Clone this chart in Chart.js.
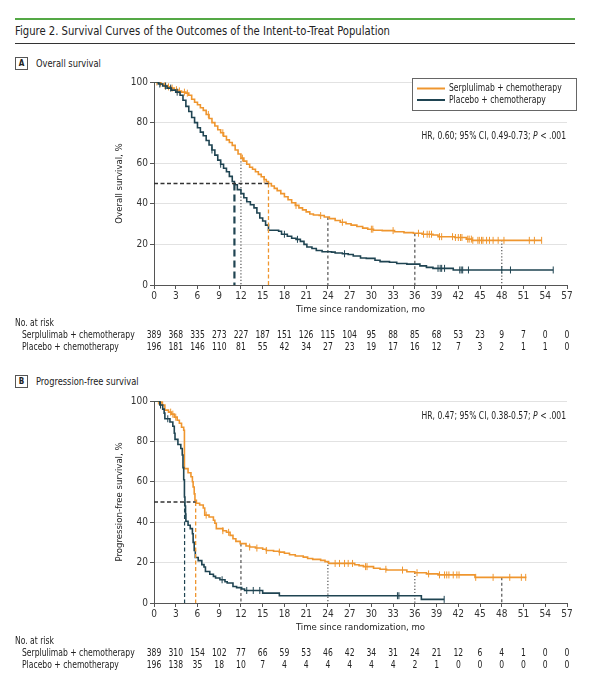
<!DOCTYPE html>
<html><head><meta charset="utf-8">
<script src="https://cdn.jsdelivr.net/npm/chart.js@4.4.1/dist/chart.umd.min.js"></script>
<style>
html,body{margin:0;padding:0;background:#fff;}
body{width:590px;height:680px;position:relative;overflow:hidden;font-family:"DejaVu Sans Condensed","Liberation Sans Narrow",sans-serif;color:#222;}
.rule-g{position:absolute;left:15px;top:18px;width:560px;height:2px;background:#54a845;}
.rule-k{position:absolute;left:15px;top:43px;width:560px;height:1px;background:#333;}
.title{position:absolute;left:15px;top:23px;font-size:13px;line-height:15px;white-space:nowrap;transform:scaleX(0.86);transform-origin:0 0;}
.panel{position:absolute;left:15px;font-size:10.5px;line-height:13px;white-space:nowrap;}
.panel .box{display:inline-block;width:11px;height:11px;border:1px solid #555;font-size:8px;line-height:11px;text-align:center;font-weight:bold;margin-right:8px;vertical-align:top;}
.panel .txt{display:inline-block;transform:scaleX(0.88);transform-origin:0 0;vertical-align:top;}
canvas{position:absolute;left:0;}
</style></head>
<body>
<div class="rule-g"></div>
<div class="title">Figure 2. Survival Curves of the Outcomes of the Intent-to-Treat Population</div>
<div class="rule-k"></div>
<div class="panel" style="top:57px"><span class="box">A</span><span class="txt">Overall survival</span></div>
<canvas id="cA" width="590" height="290" style="top:72px;width:590px;height:290px"></canvas>
<div class="panel" style="top:375px"><span class="box">B</span><span class="txt">Progression-free survival</span></div>
<canvas id="cB" width="590" height="290" style="top:390px;width:590px;height:290px"></canvas>
<script>
const FONT = '"DejaVu Sans Condensed","Liberation Sans Narrow",sans-serif';
const ORANGE = '#EF962F';
const NAVY = '#1F4452';
const SX = 0.85; // horizontal squeeze for the condensed look

const seriesLabels = ['Serplulimab + chemotherapy', 'Placebo + chemotherapy'];
const riskTimes = [0,3,6,9,12,15,18,21,24,27,30,33,36,39,42,45,48,51,54,57];

// Panel A: overall survival (time in months, % surviving)
const osSerp = [[0,100],[0.5,99.5],[1.0,99],[1.4,98.2],[1.9,97.6],[2.3,97],[2.8,96.2],[3.3,95.6],[3.8,95],[4.4,94.5],[4.8,93.5],[5.2,91.5],[5.6,90],[6.0,88.8],[6.4,87.3],[6.8,86],[7.2,84],[7.6,82],[8.0,80],[8.4,78.3],[8.8,76.5],[9.2,75],[9.6,73.3],[10.0,71.5],[10.4,70.2],[10.8,68.8],[11.2,66.5],[11.6,64.5],[12.0,62.5],[12.4,61],[12.8,59.5],[13.2,58],[13.6,57],[14.0,55.8],[14.4,54.5],[14.8,53.3],[15.2,52],[15.5,51],[15.8,50],[16.2,48.8],[16.6,47.6],[17.0,46.5],[17.5,45],[18.0,43.5],[18.5,42],[19.0,40.5],[19.5,39.2],[20.0,38],[20.5,37],[21.0,36],[21.5,35],[22.0,34.5],[22.8,34.2],[23.5,33.5],[24.2,32.7],[25.0,31.8],[25.7,30.9],[26.5,30.2],[27.2,29.5],[28.0,28.8],[28.8,28],[29.5,27.5],[30.3,27],[31.5,26.8],[33.2,26.2],[34.5,25.8],[35.8,25.5],[37.0,25],[38.5,24.6],[39.2,23.8],[41.5,23.4],[43.1,22.6],[43.9,22],[53.5,22]];
const osPlac = [[0,100],[0.6,99],[1.2,98],[1.8,97],[2.4,96],[3.0,95],[3.6,93.5],[4.0,91],[4.4,88],[4.8,85.5],[5.2,82.5],[5.6,80],[6.0,77.5],[6.4,75.3],[6.8,73.5],[7.2,71.2],[7.6,69],[8.0,66.5],[8.4,64],[8.8,61.5],[9.2,59.5],[9.6,57.5],[10.0,55.8],[10.4,53.5],[10.8,51],[11.1,49.4],[11.5,47],[12.0,45],[12.4,43],[12.8,41],[13.3,39.5],[13.8,38],[14.2,35.5],[14.6,33],[15.0,31.5],[15.4,29.5],[15.8,27],[17.2,26.5],[17.6,25],[18.4,24],[19.0,23],[19.6,22.5],[20.2,21.5],[20.7,20],[21.1,18.7],[21.8,18],[22.4,17],[23.2,16.4],[24.5,16.2],[25.0,15.8],[26.0,15.4],[26.8,15],[27.5,14.3],[28.5,13.3],[29.3,13.1],[30.5,12.2],[31.2,11.5],[32.5,11.2],[33.5,10.6],[34.9,10.3],[36.7,9.4],[37.6,8.7],[38.5,8.2],[41.3,7.4],[55.1,7.4]];
const osSerpCens = [0.4,0.9,1.5,2.0,2.5,3.1,3.5,4.2,4.6,7.5,9.5,12.2,15.2,19.6,23.0,26.0,30.0,30.2,33.0,36.5,37.2,37.7,38.0,38.3,39.4,39.7,41.2,41.6,42.0,42.3,42.5,43.3,43.5,43.8,44.0,44.7,44.9,45.2,45.4,45.9,46.3,46.8,47.5,48.3,51.8,52.5,53.5];
const osPlacCens = [0.8,1.6,2.3,3.2,8.0,9.2,18.0,19.8,26.3,39.2,39.5,39.7,40.1,42.2,42.4,42.6,43.4,48.0,49.2,55.1];
const osMedians = [15.8, 11.1];
const osLandmarks = [12,24,36,48];
const osRiskSerp = [389,368,335,273,227,187,151,126,115,104,95,88,85,68,53,23,9,7,0,0];
const osRiskPlac = [196,181,146,110,81,55,42,34,27,23,19,17,16,12,7,3,2,1,1,0];
const osHR = ['HR, 0.60; 95% CI, 0.49-0.73; ', 'P', ' < .001'];

// Panel B: progression-free survival
const pfsSerp = [[0,100],[0.8,99.5],[1.1,98],[1.5,95.5],[2.0,94.5],[2.4,93.5],[2.8,92],[3.2,90.5],[3.5,89],[3.8,87],[4.1,85.5],[4.2,66.5],[4.7,64.5],[5.1,62.5],[5.3,60],[5.4,57.4],[5.55,54],[5.65,50.8],[5.85,49.4],[6.3,48.5],[6.8,47],[7.0,43.5],[7.6,42.6],[8.2,41],[8.4,39.5],[8.6,36.8],[9.5,35.8],[10.0,35],[10.5,33.5],[10.9,31.8],[11.3,30.5],[11.9,29.4],[12.7,28.2],[13.2,27.7],[14.0,27.2],[15.0,26.6],[15.5,26],[16.5,25.6],[17.3,25.2],[18.0,24.6],[18.7,23.9],[19.5,23.3],[20.6,22.7],[21.2,22],[21.9,21.6],[23.0,21.1],[23.6,20.5],[24.1,19.6],[27.7,18.9],[28.3,18.5],[28.9,18],[30.3,17.2],[31.2,16.7],[32.1,16.3],[34.9,15.5],[36.0,15],[37.6,14.4],[39.2,13.9],[44.3,12.7],[51.4,12.7]];
const pfsPlac = [[0,100],[0.8,98],[1.2,96],[1.4,94],[1.5,91.2],[2.2,89.6],[2.6,87.5],[2.8,84],[2.9,81],[3.3,78.5],[3.7,76.5],[3.9,73.3],[4.0,67],[4.1,61],[4.2,52.5],[4.27,48],[4.35,44],[4.4,40.5],[4.7,38.5],[5.0,36.8],[5.3,34.3],[5.4,30],[5.55,26],[5.7,22.5],[6.1,21],[6.6,19],[6.9,17.8],[7.1,15.6],[7.7,14.2],[8.2,13.2],[8.5,12.4],[9.1,11.5],[9.8,10.5],[10.1,9.9],[10.9,8.2],[11.4,7.6],[12.1,6.9],[12.5,6.2],[15.0,4.9],[17.3,3.6],[36.9,1.8],[40.05,1.8]];
const pfsSerpCens = [0.6,1.2,2.3,2.6,3.0,7.2,9.5,10.3,13.2,14.2,15.5,17.3,25.0,25.6,26.3,26.8,27.4,29.2,29.4,32.0,34.3,36.3,37.9,39.4,40.1,40.4,40.7,41.3,41.8,42.1,44.4,46.8,49.1,50.7,51.3];
const pfsPlacCens = [0.9,1.9,9.4,12.8,13.7,14.6,33.6,33.8,40.05];
const pfsMedians = [5.75, 4.22];
const pfsLandmarks = [12,24,36,48];
const pfsRiskSerp = [389,310,154,102,77,66,59,53,46,42,34,31,24,21,12,6,4,1,0,0];
const pfsRiskPlac = [196,138,35,18,10,7,4,4,4,4,4,4,2,1,0,0,0,0,0,0];
const pfsHR = ['HR, 0.47; 95% CI, 0.38-0.57; ', 'P', ' < .001'];

function survAt(curve, t) {
  let s = curve[0][1];
  for (const [ct, cs] of curve) { if (ct <= t) s = cs; else break; }
  return s;
}
const pts = c => c.map(([x, y]) => ({x, y}));

function sText(ctx, str, x, y, align) {
  ctx.save();
  ctx.translate(x, y);
  ctx.scale(SX, 1);
  ctx.textAlign = align;
  ctx.fillText(str, 0, 0);
  ctx.restore();
}

const kmExtras = {
  id: 'kmExtras',
  afterDraw(chart, args, o) {
    const ctx = chart.ctx, xs = chart.scales.x, ca = chart.chartArea;
    ctx.save();
    ctx.fillStyle = '#222';
    ctx.textBaseline = 'middle';
    // risk table
    ctx.font = '10px ' + FONT;
    sText(ctx, 'No. at risk', 15, ca.bottom + o.riskTop, 'left');
    o.rows.forEach((row, r) => {
      const y = ca.bottom + o.riskTop + o.riskGap * (r + 1);
      sText(ctx, row.label, 22, y, 'left');
      row.values.forEach((v, i) => sText(ctx, String(v), xs.getPixelForValue(riskTimes[i]), y, 'center'));
    });
    // HR text
    const norm = '10px ' + FONT, ital = 'italic 10px ' + FONT;
    ctx.font = norm; const w0 = ctx.measureText(o.hr[0]).width * SX, w2 = ctx.measureText(o.hr[2]).width * SX;
    ctx.font = ital; const w1 = ctx.measureText(o.hr[1]).width * SX;
    let x = 566 - (w0 + w1 + w2);
    const hy = ca.top + o.hrTop;
    ctx.font = norm; sText(ctx, o.hr[0], x, hy, 'left'); x += w0;
    ctx.font = ital; sText(ctx, o.hr[1], x, hy, 'left'); x += w1;
    ctx.font = norm; sText(ctx, o.hr[2], x, hy, 'left');
    // legend
    if (o.legend) {
      const lx = 412, ly = ca.top - 4, lw = 164, lh = 32;
      ctx.fillStyle = '#fff';
      ctx.fillRect(lx, ly, lw, lh);
      ctx.strokeStyle = '#666'; ctx.lineWidth = 1;
      ctx.strokeRect(lx + 0.5, ly + 0.5, lw, lh);
      ctx.font = '10px ' + FONT; ctx.fillStyle = '#222';
      [0, 1].forEach(i => {
        const ds = chart.data.datasets[i];
        const yy = ly + 10.5 + i * 11.5;
        ctx.strokeStyle = ds.borderColor; ctx.lineWidth = 2;
        ctx.beginPath(); ctx.moveTo(417, yy); ctx.lineTo(445, yy); ctx.stroke();
        sText(ctx, ds.label, 449, yy, 'left');
      });
    }
    ctx.restore();
  }
};

const DOT = [1.2, 2];
const DASH = [3, 2.5];

function build(id, serp, plac, serpC, placC, medians, landmarks, landStyles, riskS, riskP, hr, yTitle, top, hrTop, legend, placMedDash, placMedWidth) {
  const medS = medians[0], medP = medians[1];
  const datasets = [
    {label: seriesLabels[0], data: pts(serp), borderColor: ORANGE, borderWidth: 1.6, stepped: 'before', pointRadius: 0, order: 2},
    {label: seriesLabels[1], data: pts(plac), borderColor: NAVY, borderWidth: 1.6, stepped: 'before', pointRadius: 0, order: 1},
    {label: 'cens1', data: serpC.map(t => ({x: t, y: survAt(serp, t)})), showLine: false, pointStyle: 'line', rotation: 90, pointRadius: 3.5, pointBorderWidth: 1, pointBorderColor: ORANGE, borderColor: ORANGE, order: 2},
    {label: 'cens2', data: placC.map(t => ({x: t, y: survAt(plac, t)})), showLine: false, pointStyle: 'line', rotation: 90, pointRadius: 3.5, pointBorderWidth: 1, pointBorderColor: NAVY, borderColor: NAVY, order: 1},
    {label: 'medH', data: [{x: 0, y: 50}, {x: medS, y: 50}], borderColor: '#333', borderWidth: 1.3, borderDash: [4, 2.5], pointRadius: 0, order: 0},
    {label: 'medS', data: [{x: medS, y: 50}, {x: medS, y: 0}], borderColor: ORANGE, borderWidth: 1.3, borderDash: [4, 2.5], pointRadius: 0, order: 0},
    {label: 'medP', data: [{x: medP, y: 50}, {x: medP, y: 0}], borderColor: NAVY, borderWidth: placMedWidth, borderDash: placMedDash, pointRadius: 0, order: 0},
  ];
  landmarks.forEach((t, i) => datasets.push({label: 'lm' + t, data: [{x: t, y: survAt(serp, t)}, {x: t, y: 0}], borderColor: '#444', borderWidth: 1.1, borderDash: landStyles[i], pointRadius: 0, order: 3}));
  return new Chart(document.getElementById(id), {
    type: 'line',
    data: {datasets},
    options: {
      responsive: false, animation: false, events: [],
      layout: {padding: {left: 108, right: 23, top: top, bottom: 47}},
      plugins: {legend: {display: false}, tooltip: {enabled: false},
        kmExtras: {rows: [{label: seriesLabels[0], values: riskS}, {label: seriesLabels[1], values: riskP}], riskTop: 38.5, riskGap: 12, hr, hrTop, legend}},
      scales: {
        x: {type: 'linear', min: 0, max: 57,
          ticks: {stepSize: 3, autoSkip: false, padding: 1, color: '#333', font: {size: 10, family: FONT}, maxRotation: 0},
          grid: {drawOnChartArea: false, drawTicks: true, tickLength: 4, tickColor: '#555'},
          border: {color: '#555', width: 1},
          title: {display: true, text: 'Time since randomization, mo', color: '#222', font: {size: 9.5, family: FONT}, padding: {top: 0, bottom: 0}},
          afterFit: s => { s.height = 30; }},
        y: {min: 0, max: 100,
          ticks: {stepSize: 20, padding: 2, color: '#333', font: {size: 10, family: FONT}},
          grid: {color: '#e2e2e2', lineWidth: 1, tickLength: 4, tickColor: '#555'},
          border: {color: '#555', width: 1},
          title: {display: true, text: yTitle, color: '#222', font: {size: 9.5, family: FONT}, padding: {top: 6, bottom: 0}},
          afterFit: s => { s.width = 46; }}
      }
    },
    plugins: [kmExtras]
  });
}

build('cA', osSerp, osPlac, osSerpCens, osPlacCens, osMedians, osLandmarks, [DOT, DASH, DASH, DOT], osRiskSerp, osRiskPlac, osHR, 'Overall survival, %', 10, 54, true, [7, 4], 2.2);
build('cB', pfsSerp, pfsPlac, pfsSerpCens, pfsPlacCens, pfsMedians, pfsLandmarks, [DASH, DOT, DOT, DASH], pfsRiskSerp, pfsRiskPlac, pfsHR, 'Progression-free survival, %', 11, 15, false, [4, 2.5], 1.2);
</script>
</body></html>
